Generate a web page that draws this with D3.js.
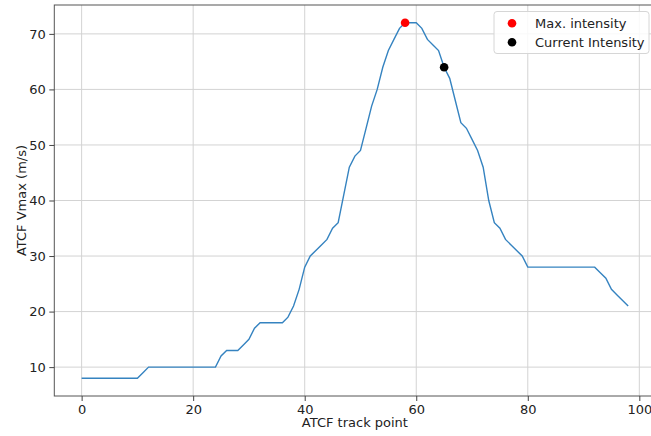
<!DOCTYPE html>
<html><head><meta charset="utf-8">
<script src="https://cdn.jsdelivr.net/npm/d3@7"></script>
<style>body{margin:0;background:#fff;}svg{display:block;}</style>
</head><body>
<script>
const trackPoints = d3.range(0, 99);
const vmax = [8,8,8,8,8,8,8,8,8,8,8,9,10,10,10,10,10,10,10,10,10,10,10,10,10,12,13,13,13,14,15,17,18,18,18,18,18,19,21,24,28,30,31,32,33,35,36,41,46,48,49,53,57,60,64,67,69,71,72,72,72,71,69,68,67,64,62,58,54,53,51,49,46,40,36,35,33,32,31,30,28,28,28,28,28,28,28,28,28,28,28,28,28,27,26,24,23,22,21];
const maxPoint = {x: 58, y: 72};
const currentPoint = {x: 65, y: 64};
const xTicks = [0,20,40,60,80,100];
const yTicks = [10,20,30,40,50,60,70];
const legendLabels = ["Max. intensity","Current Intensity"];

const W = 651, H = 436;
const m = {left: 54.3, top: 5, right: 655.5, bottom: 396};
const svg = d3.select("body").append("svg").attr("width", W).attr("height", H);
const x = d3.scaleLinear().domain([-4.9, 102.9]).range([m.left, m.right]);
const y = d3.scaleLinear().domain([4.8, 75.2]).range([m.bottom, m.top]);
const font = "DejaVu Sans, sans-serif";

// grid
const g = svg.append("g");
g.selectAll(".gx").data(xTicks).enter().append("line")
  .attr("x1", d => x(d)).attr("x2", d => x(d)).attr("y1", m.top).attr("y2", m.bottom)
  .attr("stroke", "#d3d3d3").attr("stroke-width", 1);
g.selectAll(".gy").data(yTicks).enter().append("line")
  .attr("x1", m.left).attr("x2", m.right).attr("y1", d => y(d)).attr("y2", d => y(d))
  .attr("stroke", "#d3d3d3").attr("stroke-width", 1);

// line
const line = d3.line().x((d, i) => x(trackPoints[i])).y(d => y(d));
svg.append("path").datum(vmax).attr("d", line).attr("fill", "none")
  .attr("stroke", "#3583c0").attr("stroke-width", 1.4);

// points
svg.append("circle").attr("cx", x(maxPoint.x)).attr("cy", y(maxPoint.y)).attr("r", 4.3).attr("fill", "#ff0000");
svg.append("circle").attr("cx", x(currentPoint.x)).attr("cy", y(currentPoint.y)).attr("r", 4.3).attr("fill", "#000");

// spines
svg.append("rect").attr("x", m.left).attr("y", m.top).attr("width", m.right - m.left).attr("height", m.bottom - m.top)
  .attr("fill", "none").attr("stroke", "#555").attr("stroke-width", 1);

// axes
const ax = svg.append("g").attr("transform", `translate(0,${m.bottom})`)
  .call(d3.axisBottom(x).tickValues(xTicks).tickSize(5).tickPadding(3.5).tickFormat(d3.format("d")));
const ay = svg.append("g").attr("transform", `translate(${m.left},0)`)
  .call(d3.axisLeft(y).tickValues(yTicks).tickSize(5).tickPadding(3.5).tickFormat(d3.format("d")));
[ax, ay].forEach(a => {
  a.select(".domain").remove();
  a.selectAll("line").attr("stroke", "#444");
  a.selectAll("text").attr("font-family", font).attr("font-size", 13).attr("fill", "#222");
});

// labels
svg.append("text").attr("x", (m.left + m.right) / 2).attr("y", 427).attr("text-anchor", "middle")
  .attr("font-family", font).attr("font-size", 13).attr("fill", "#222").text("ATCF track point");
svg.append("text").attr("transform", `translate(26,${(m.top + m.bottom) / 2}) rotate(-90)`).attr("text-anchor", "middle")
  .attr("font-family", font).attr("font-size", 13).attr("fill", "#222").text("ATCF Vmax (m/s)");

// legend
const lg = svg.append("g");
lg.append("rect").attr("x", 494).attr("y", 11.5).attr("width", 155).attr("height", 42).attr("rx", 3)
  .attr("fill", "#fff").attr("fill-opacity", 0.85).attr("stroke", "#d6d6d6").attr("stroke-width", 1);
const colors = ["#ff0000", "#000"];
legendLabels.forEach((t, i) => {
  const yy = 23.3 + i * 19;
  lg.append("circle").attr("cx", 512).attr("cy", yy).attr("r", 4.3).attr("fill", colors[i]);
  lg.append("text").attr("x", 535).attr("y", yy + 4.6).attr("font-family", font).attr("font-size", 13)
    .attr("fill", "#222").text(t);
});
</script>
</body></html>
